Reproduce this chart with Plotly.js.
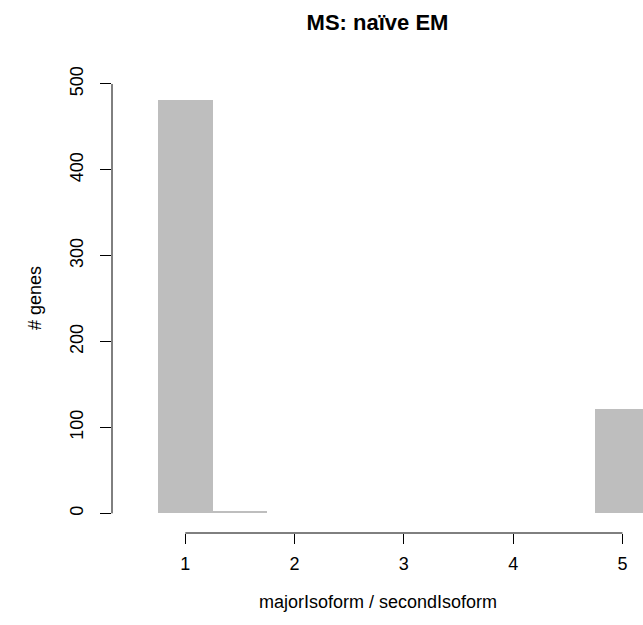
<!DOCTYPE html>
<html>
<head>
<meta charset="utf-8">
<script src="https://cdn.plot.ly/plotly-3.0.1.min.js"></script>
<style>
  html, body { margin: 0; padding: 0; background: #ffffff; }
  #chart { width: 643px; height: 625px; }
</style>
</head>
<body>
<div id="chart"></div>
<script>
// Histogram of the majorIsoform / secondIsoform ratio (bin width 0.5)
const binCenters = [1, 1.5, 2, 2.5, 3, 3.5, 4, 4.5, 5];
const geneCounts = [481, 3, 0, 0, 0, 0, 0, 0, 122];
const binWidth = 0.5;

const xTicks = [1, 2, 3, 4, 5];
const yTicks = [0, 100, 200, 300, 400, 500];

const titleText = 'MS: naïve EM';
const xTitleText = 'majorIsoform / secondIsoform';
const yTitleText = '# genes';

const font = 'Liberation Sans, Arial, Helvetica, sans-serif';

const trace = {
  type: 'bar',
  x: binCenters,
  y: geneCounts,
  width: binCenters.map(() => binWidth),
  marker: { color: '#bebebe', line: { width: 0 } },
  hoverinfo: 'x+y'
};

const layout = {
  width: 643,
  height: 625,
  margin: { l: 112, r: 0, t: 60, b: 92 },
  paper_bgcolor: '#ffffff',
  plot_bgcolor: '#ffffff',
  showlegend: false,
  bargap: 0,
  font: { family: font, size: 18, color: '#000000' },
  title: {
    text: '<b>' + titleText + '</b>',
    font: { family: font, size: 22, color: '#000000' },
    x: 0.5, xref: 'paper', xanchor: 'center',
    y: 1 - 22 / 625, yref: 'container', yanchor: 'middle'
  },
  xaxis: {
    range: [0.3294, 5.188],
    tickvals: xTicks,
    ticktext: xTicks.map(String),
    ticks: 'outside', ticklen: 10, tickwidth: 1, tickcolor: '#000000',
    ticklabelstandoff: 4,
    showline: false, showgrid: false, zeroline: false,
    tickfont: { family: font, size: 18, color: '#000000' },
    fixedrange: true
  },
  yaxis: {
    range: [-22.9, 527.9],
    tickvals: yTicks,
    ticktext: yTicks.map(String),
    tickangle: -90,
    ticks: 'outside', ticklen: 11, tickwidth: 1, tickcolor: '#000000',
    ticklabelstandoff: 10,
    showline: false, showgrid: false, zeroline: false,
    tickfont: { family: font, size: 18, color: '#000000' },
    fixedrange: true
  },
  shapes: [
    // axis lines spanning only the labelled range
    { type: 'line', xref: 'x', yref: 'paper', x0: xTicks[0], x1: xTicks[xTicks.length - 1], y0: 0, y1: 0,
      line: { color: '#000000', width: 1 } },
    { type: 'line', xref: 'paper', yref: 'y', x0: 0, x1: 0, y0: yTicks[0], y1: yTicks[yTicks.length - 1],
      line: { color: '#000000', width: 1 } }
  ],
  annotations: [
    { text: xTitleText, xref: 'paper', yref: 'paper', x: 0.5, y: (533 - 601.7) / 473,
      xanchor: 'center', yanchor: 'middle', showarrow: false,
      font: { family: font, size: 18, color: '#000000' } },
    { text: yTitleText, xref: 'paper', yref: 'paper', x: (35 - 112) / 531, y: (533 - 298) / 473,
      xanchor: 'center', yanchor: 'middle', textangle: -90, showarrow: false,
      font: { family: font, size: 18, color: '#000000' } }
  ]
};

Plotly.newPlot('chart', [trace], layout, { displayModeBar: false, staticPlot: true });
</script>
</body>
</html>
